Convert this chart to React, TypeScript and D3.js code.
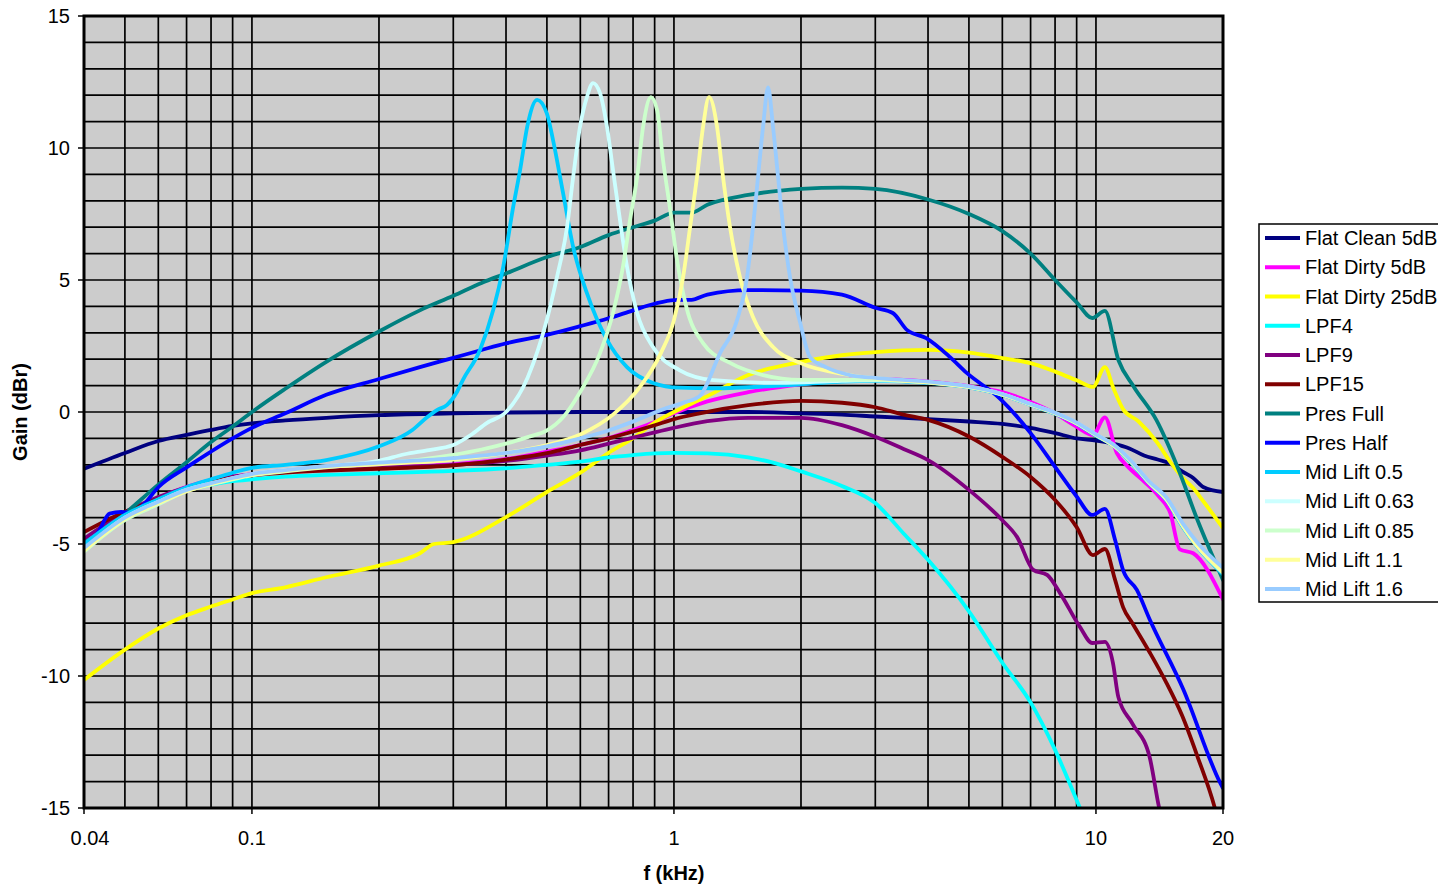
import React, { useEffect, useRef } from 'react';
import * as d3 from 'd3';

// each series: [frequency kHz, gain dBr]
const flatClean5 = [
  [0.04, -2.15], [0.05, -1.55], [0.06, -1.1], [0.07, -0.87], [0.08, -0.68], [0.09, -0.53], [0.1, -0.43],
  [0.12, -0.32], [0.15, -0.22], [0.2, -0.12], [0.3, -0.05], [0.4, -0.02], [0.6, 0], [1, 0], [1.5, 0],
  [2, -0.05], [2.5, -0.1], [3, -0.17], [4, -0.27], [5, -0.36], [6, -0.45], [7, -0.6], [8, -0.8], [9, -1.0],
  [10, -1.08], [11, -1.2], [12, -1.38], [13, -1.65], [14, -1.8], [15, -1.95], [16, -2.25], [17, -2.5],
  [18, -2.85], [20, -3.03],
];
const flatDirty5 = [
  [0.04, -4.85], [0.05, -3.8], [0.06, -3.25], [0.07, -2.83], [0.08, -2.58], [0.09, -2.45], [0.1, -2.35],
  [0.12, -2.23], [0.15, -2.15], [0.2, -2.08], [0.3, -1.98], [0.4, -1.78], [0.5, -1.5], [0.6, -1.25],
  [0.7, -0.99], [0.8, -0.68], [0.9, -0.38], [1, -0.05], [1.2, 0.4], [1.5, 0.75], [2, 1.05], [2.5, 1.2],
  [3, 1.25], [4, 1.15], [5, 0.98], [6, 0.75], [7, 0.38], [8, -0.05], [9, -0.56], [9.84, -0.87],
  [10.5, -0.2], [11.2, -1.55], [11.9, -2.07], [12.9, -2.58], [14.1, -3.2], [15, -3.83], [15.8, -5.2],
  [17, -5.35], [20, -7.1],
];
const flatDirty25 = [
  [0.04, -10.15], [0.05, -9.0], [0.06, -8.2], [0.07, -7.7], [0.08, -7.37], [0.09, -7.1], [0.1, -6.86],
  [0.12, -6.64], [0.15, -6.26], [0.2, -5.82], [0.25, -5.35], [0.27, -5.0], [0.3, -4.93], [0.4, -3.98],
  [0.5, -3.03], [0.6, -2.3], [0.7, -1.55], [0.8, -0.99], [0.9, -0.4], [1, 0.0], [1.2, 0.6], [1.5, 1.4],
  [2, 1.9], [2.5, 2.15], [3, 2.27], [4, 2.35], [5, 2.25], [6, 2.04], [7, 1.85], [8, 1.53], [9, 1.2],
  [9.84, 0.95], [10.5, 1.7], [11, 0.9], [11.6, 0.1], [12.6, -0.35], [14, -1.18], [15, -1.89],
  [16, -2.46], [17, -2.88], [18, -3.4], [20, -4.4],
];
const lpf4 = [
  [0.04, -5.0], [0.05, -3.9], [0.06, -3.3], [0.07, -2.95], [0.08, -2.75], [0.09, -2.62], [0.1, -2.55],
  [0.12, -2.45], [0.15, -2.38], [0.2, -2.32], [0.3, -2.23], [0.4, -2.13], [0.5, -2.0], [0.6, -1.88],
  [0.7, -1.72], [0.8, -1.63], [0.9, -1.57], [1, -1.55], [1.2, -1.57], [1.5, -1.72], [1.7, -1.9],
  [2, -2.25], [2.5, -2.8], [3, -3.45], [3.5, -4.6], [4, -5.6], [5, -7.55], [6, -9.5], [7, -11.0],
  [8, -12.8], [9, -14.7], [9.5, -15.6],
];
const lpf9 = [
  [0.04, -4.8], [0.05, -3.8], [0.06, -3.22], [0.07, -2.85], [0.08, -2.6], [0.09, -2.45], [0.1, -2.36],
  [0.12, -2.26], [0.15, -2.18], [0.2, -2.1], [0.3, -2.0], [0.4, -1.85], [0.5, -1.65], [0.6, -1.45],
  [0.7, -1.2], [0.8, -0.97], [0.9, -0.77], [1, -0.6], [1.2, -0.35], [1.5, -0.22], [2, -0.22],
  [2.5, -0.5], [3, -0.94], [3.5, -1.4], [4, -1.82], [5, -2.95], [6, -4.1], [6.5, -4.73], [7.1, -5.98],
  [7.66, -6.17], [8.22, -6.86], [9.16, -8.14], [9.8, -8.75], [10.5, -8.71], [10.97, -9.5], [11.3, -10.8],
  [12.2, -11.8], [13.4, -13.07], [14.1, -14.96], [14.3, -15.4],
];
const lpf15 = [
  [0.04, -4.55], [0.05, -3.78], [0.06, -3.3], [0.07, -2.9], [0.08, -2.63], [0.09, -2.5], [0.1, -2.4],
  [0.12, -2.3], [0.15, -2.22], [0.2, -2.15], [0.3, -2.02], [0.4, -1.8], [0.5, -1.56], [0.6, -1.25],
  [0.7, -1.0], [0.8, -0.74], [0.9, -0.5], [1, -0.27], [1.15, -0.05], [1.5, 0.26], [2, 0.42], [2.5, 0.35],
  [3, 0.18], [3.5, -0.1], [4, -0.3], [5, -0.93], [6, -1.7], [7, -2.46], [8, -3.33], [9, -4.36],
  [9.84, -5.42], [10.5, -5.19], [11.1, -6.36], [11.6, -7.4], [12.2, -8.0], [13.4, -9.1], [14.7, -10.27],
  [16, -11.5], [17.4, -13.05], [19.1, -14.96], [19.5, -15.5],
];
const presFull = [
  [0.04, -4.95], [0.045, -4.45], [0.05, -3.85], [0.06, -2.75], [0.07, -1.9], [0.08, -1.14], [0.09, -0.55],
  [0.1, 0.0], [0.12, 0.88], [0.15, 1.9], [0.2, 3.05], [0.25, 3.85], [0.3, 4.4], [0.35, 4.89], [0.4, 5.25],
  [0.5, 5.87], [0.6, 6.25], [0.7, 6.7], [0.8, 7.0], [0.9, 7.25], [1, 7.55], [1.1, 7.55], [1.2, 7.85],
  [1.5, 8.22], [2, 8.45], [2.5, 8.5], [3, 8.45], [4, 8.05], [5, 7.5], [6, 6.85], [7, 6.0], [8, 5.0],
  [9, 4.15], [9.8, 3.56], [10.5, 3.83], [11.3, 1.97], [12.3, 0.95], [13.9, -0.3], [15.6, -2.08],
  [17.4, -4.09], [20, -6.36],
];
const presHalf = [
  [0.04, -5.0], [0.043, -4.6], [0.046, -3.85], [0.049, -3.78], [0.052, -3.82], [0.055, -3.55], [0.06, -2.85],
  [0.07, -2.1], [0.08, -1.5], [0.09, -1.0], [0.1, -0.6], [0.12, -0.05], [0.15, 0.65], [0.2, 1.25],
  [0.25, 1.7], [0.3, 2.05], [0.35, 2.35], [0.4, 2.6], [0.5, 2.92], [0.6, 3.25], [0.7, 3.55], [0.8, 3.85],
  [0.9, 4.1], [1, 4.24], [1.1, 4.25], [1.2, 4.45], [1.5, 4.62], [2, 4.6], [2.5, 4.45], [3, 3.95],
  [3.3, 3.75], [3.57, 3.1], [3.96, 2.8], [4.51, 2.08], [4.94, 1.48], [5.93, 0.5], [7, -0.8], [8, -2.08],
  [9, -3.2], [9.8, -3.9], [10.5, -3.67], [11.1, -4.85], [11.6, -6.0], [12.5, -6.74], [13.4, -7.85],
  [16.1, -10.5], [19.7, -14.05], [20, -14.25],
];
const midLift05 = [
  [0.04, -5.0], [0.05, -3.9], [0.06, -3.3], [0.07, -2.85], [0.08, -2.55], [0.09, -2.3], [0.1, -2.12],
  [0.12, -2.0], [0.15, -1.82], [0.2, -1.3], [0.24, -0.68], [0.26, -0.2], [0.275, 0.08], [0.29, 0.27],
  [0.306, 0.76], [0.316, 1.21], [0.347, 2.35], [0.373, 3.86], [0.394, 5.5], [0.416, 7.77], [0.432, 9.17],
  [0.449, 10.8], [0.474, 11.82], [0.5, 11.3], [0.517, 10.3], [0.546, 8.3], [0.577, 6.25], [0.622, 4.5],
  [0.694, 2.73], [0.774, 1.7], [0.892, 1.1], [1.03, 0.92], [1.24, 0.9], [2, 1.05], [2.5, 1.15], [3, 1.18],
  [4, 1.1], [5, 0.93], [6, 0.65], [7, 0.27], [8, -0.07], [9, -0.45], [10, -0.9], [11.1, -1.33],
  [12, -1.85], [13.4, -2.72], [14.7, -3.35], [16.1, -4.38], [17.4, -5.12], [20, -6.15],
];
const midLift063 = [
  [0.04, -5.2], [0.05, -4.0], [0.06, -3.4], [0.07, -2.95], [0.08, -2.7], [0.09, -2.5], [0.1, -2.35],
  [0.12, -2.2], [0.15, -2.05], [0.2, -1.85], [0.23, -1.6], [0.26, -1.45], [0.3, -1.25], [0.33, -0.87],
  [0.36, -0.42], [0.4, 0.0], [0.45, 1.3], [0.5, 3.5], [0.528, 5.1], [0.558, 7.0], [0.577, 8.9],
  [0.599, 10.8], [0.622, 11.93], [0.643, 12.46], [0.668, 12.08], [0.694, 10.8], [0.717, 9.17],
  [0.745, 7.27], [0.774, 5.5], [0.818, 3.75], [0.892, 2.46], [1.03, 1.59], [1.24, 1.21], [1.78, 1.1],
  [2.5, 1.18], [3, 1.2], [4, 1.12], [5, 0.95], [6, 0.67], [7, 0.3], [8, -0.04], [9, -0.42], [10, -0.86],
  [11.1, -1.3], [12, -1.8], [13.4, -2.68], [14.7, -3.3], [16.1, -4.3], [17.4, -5.05], [20, -6.05],
];
const midLift085 = [
  [0.04, -5.3], [0.05, -4.1], [0.06, -3.5], [0.07, -3.0], [0.08, -2.75], [0.09, -2.55], [0.1, -2.4],
  [0.12, -2.25], [0.15, -2.1], [0.2, -1.95], [0.25, -1.8], [0.3, -1.62], [0.35, -1.42], [0.4, -1.2],
  [0.45, -0.95], [0.5, -0.7], [0.546, -0.2], [0.599, 0.75], [0.668, 2.23], [0.717, 3.75], [0.757, 5.5],
  [0.787, 7.27], [0.818, 8.9], [0.845, 10.8], [0.882, 11.93], [0.912, 11.44], [0.942, 9.55], [0.98, 7.65],
  [1.017, 5.76], [1.07, 3.98], [1.172, 2.61], [1.358, 1.86], [1.626, 1.4], [2, 1.22], [2.5, 1.22],
  [3, 1.22], [4, 1.12], [5, 0.95], [6, 0.66], [7, 0.28], [8, -0.05], [9, -0.43], [10, -0.88],
  [11.1, -1.32], [12, -1.82], [13.4, -2.7], [14.7, -3.33], [16.1, -4.35], [17.4, -5.1], [20, -6.1],
];
const midLift11 = [
  [0.04, -5.25], [0.05, -4.05], [0.06, -3.45], [0.07, -3.0], [0.08, -2.72], [0.09, -2.52], [0.1, -2.38],
  [0.12, -2.22], [0.15, -2.08], [0.2, -1.98], [0.3, -1.8], [0.4, -1.55], [0.5, -1.25], [0.6, -0.85],
  [0.717, -0.1], [0.831, 0.95], [0.931, 2.23], [1.0, 3.48], [1.051, 5.1], [1.092, 7.0], [1.134, 8.9],
  [1.172, 10.8], [1.211, 11.93], [1.265, 10.8], [1.307, 8.9], [1.358, 7.0], [1.434, 5.1], [1.539, 3.6],
  [1.717, 2.46], [1.99, 1.86], [2.61, 1.4], [3.43, 1.2], [4, 1.12], [5, 0.95], [6, 0.67], [7, 0.29],
  [8, -0.05], [9, -0.43], [10, -0.87], [11.1, -1.31], [12, -1.8], [13.4, -2.68], [14.7, -3.3],
  [16.1, -4.33], [17.4, -5.08], [20, -6.05],
];
const midLift16 = [
  [0.04, -5.15], [0.05, -4.0], [0.06, -3.4], [0.07, -2.95], [0.08, -2.7], [0.09, -2.5], [0.1, -2.35],
  [0.12, -2.2], [0.15, -2.05], [0.2, -1.92], [0.3, -1.75], [0.4, -1.55], [0.5, -1.3], [0.6, -1.0],
  [0.7, -0.7], [0.818, -0.3], [0.942, 0.1], [1.05, 0.35], [1.15, 0.6], [1.286, 2.23], [1.411, 3.48],
  [1.49, 5.1], [1.539, 7.0], [1.582, 8.9], [1.626, 10.8], [1.671, 12.3], [1.717, 10.8], [1.765, 8.9],
  [1.815, 7.0], [1.884, 5.1], [1.99, 3.4], [2.1, 2.08], [2.29, 1.7], [2.61, 1.4], [3, 1.29], [4, 1.15],
  [5, 0.97], [6, 0.68], [7, 0.3], [8, -0.03], [9, -0.4], [10, -0.85], [11.1, -1.28], [12, -1.78],
  [13.4, -2.65], [14.7, -3.25], [16.1, -4.25], [17.4, -4.95], [20, -5.9],
];

const seriesNames = [
  'Flat Clean 5dB', 'Flat Dirty 5dB', 'Flat Dirty 25dB', 'LPF4', 'LPF9', 'LPF15', 'Pres Full',
  'Pres Half', 'Mid Lift 0.5', 'Mid Lift 0.63', 'Mid Lift 0.85', 'Mid Lift 1.1', 'Mid Lift 1.6',
];
const seriesValues = [
  flatClean5, flatDirty5, flatDirty25, lpf4, lpf9, lpf15, presFull, presHalf,
  midLift05, midLift063, midLift085, midLift11, midLift16,
];
const seriesColors = [
  '#000080', '#FF00FF', '#FFFF00', '#00FFFF', '#800080', '#800000', '#008080',
  '#0000FF', '#00CCFF', '#CCFFFF', '#CCFFCC', '#FFFF99', '#99CCFF',
];
const xTickValues = [0.04, 0.1, 1, 10, 20];
const yTickValues = [-15, -10, -5, 0, 5, 10, 15];

const font = '"Liberation Sans", Arial, sans-serif';

export default function App() {
  const ref = useRef<SVGSVGElement>(null);

  useEffect(() => {
    drawChart();
  }, []);

  const drawChart = () => {
    const width = 1438,
      height = 884,
      margin = { top: 16, right: 215, bottom: 76, left: 84 };
    const innerW = width - margin.left - margin.right; // 1139
    const innerH = height - margin.top - margin.bottom; // 792

    const root = d3.select(ref.current);
    root.selectAll('*').remove();

    const x = d3.scaleLog().domain([0.04, 20]).range([0, innerW]);
    const y = d3.scaleLinear().domain([-15, 15]).range([innerH, 0]);

    const g = root.append('g').attr('transform', `translate(${margin.left},${margin.top})`);

    g.append('rect').attr('width', innerW).attr('height', innerH).attr('fill', '#CCCCCC');

    // log grid: 1..9 per decade
    const gridX: number[] = [];
    [0.01, 0.1, 1, 10].forEach(dec => {
      for (let m = 1; m <= 9; m++) {
        const v = +(dec * m).toPrecision(3);
        if (v > 0.04 && v < 20) gridX.push(v);
      }
    });
    g.append('g')
      .selectAll('line')
      .data(gridX)
      .enter()
      .append('line')
      .attr('x1', d => x(d)).attr('x2', d => x(d))
      .attr('y1', 0).attr('y2', innerH)
      .attr('stroke', '#000').attr('stroke-width', 1.7);

    g.append('g')
      .selectAll('line')
      .data(d3.range(-14, 15))
      .enter()
      .append('line')
      .attr('x1', 0).attr('x2', innerW)
      .attr('y1', d => y(d)).attr('y2', d => y(d))
      .attr('stroke', '#000').attr('stroke-width', 1.7);

    // clip
    root.append('defs').append('clipPath').attr('id', 'plotClip')
      .append('rect').attr('width', innerW).attr('height', innerH);

    const line = d3.line<number[]>()
      .x(d => x(d[0]))
      .y(d => y(d[1]))
      .curve(d3.curveMonotoneX);

    const lines = g.append('g').attr('clip-path', 'url(#plotClip)');
    seriesValues.forEach((vals, i) => {
      lines.append('path')
        .attr('d', line(vals as number[][]))
        .attr('fill', 'none')
        .attr('stroke', seriesColors[i])
        .attr('stroke-width', 3.8)
        .attr('stroke-linejoin', 'round')
        .attr('stroke-linecap', 'round');
    });

    // plot border
    g.append('rect').attr('width', innerW).attr('height', innerH)
      .attr('fill', 'none').attr('stroke', '#000').attr('stroke-width', 3);

    // Y axis
    const yAxis = g.append('g');
    yAxis.selectAll('line')
      .data(yTickValues).enter().append('line')
      .attr('x1', -6).attr('x2', 0)
      .attr('y1', d => y(d)).attr('y2', d => y(d))
      .attr('stroke', '#000').attr('stroke-width', 1.5);
    yAxis.selectAll('text')
      .data(yTickValues).enter().append('text')
      .attr('x', -14).attr('y', d => y(d)).attr('dy', '0.35em')
      .attr('text-anchor', 'end')
      .style('font-family', font).style('font-size', '20px')
      .text(d => String(d));

    // X axis
    const xAxis = g.append('g').attr('transform', `translate(0,${innerH})`);
    xAxis.selectAll('line')
      .data(xTickValues).enter().append('line')
      .attr('x1', d => x(d)).attr('x2', d => x(d))
      .attr('y1', 0).attr('y2', 6)
      .attr('stroke', '#000').attr('stroke-width', 1.5);
    xAxis.selectAll('text')
      .data(xTickValues).enter().append('text')
      .attr('x', d => x(d) + (d === 0.04 ? 6 : 0)).attr('y', 37)
      .attr('text-anchor', 'middle')
      .style('font-family', font).style('font-size', '20px')
      .text(d => String(d));

    g.append('text')
      .attr('x', x(1)).attr('y', innerH + 72)
      .attr('text-anchor', 'middle')
      .style('font-family', font).style('font-size', '20px').style('font-weight', 'bold')
      .text('f (kHz)');

    g.append('text')
      .attr('transform', `translate(${-margin.left + 27},${innerH / 2}) rotate(-90)`)
      .attr('text-anchor', 'middle')
      .style('font-family', font).style('font-size', '20px').style('font-weight', 'bold')
      .text('Gain (dBr)');

    // legend
    const lg = root.append('g').attr('transform', 'translate(1259,224)');
    lg.append('rect').attr('width', 190).attr('height', 378)
      .attr('fill', '#fff').attr('stroke', '#000').attr('stroke-width', 1.5);
    const item = lg.selectAll('g.item').data(seriesNames).enter().append('g')
      .attr('class', 'item')
      .attr('transform', (_d, i) => `translate(0,${14 + i * 29.25})`);
    item.append('line')
      .attr('x1', 6).attr('x2', 41).attr('y1', 0).attr('y2', 0)
      .attr('stroke', (_d, i) => seriesColors[i]).attr('stroke-width', 3.8);
    item.append('text')
      .attr('x', 46).attr('y', 0).attr('dy', '0.35em')
      .style('font-family', font).style('font-size', '20px')
      .text(d => d);
  };

  return (
    <svg
      ref={ref}
      width={1438}
      height={884}
      style={{ position: 'absolute', left: 0, top: 0, display: 'block', background: '#fff' }}
    />
  );
}
